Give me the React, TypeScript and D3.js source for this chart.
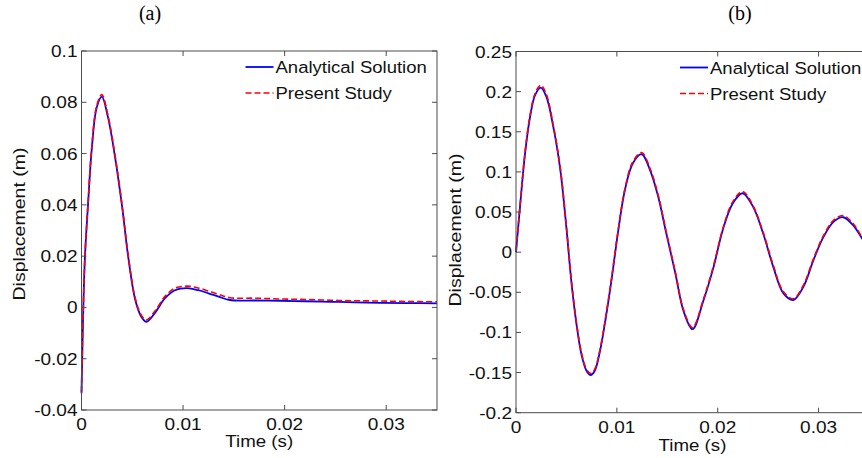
import React from "react";
import * as d3 from "d3";

// panel (a)
const timeA = [0, 0.00018, 0.00034, 0.00067, 0.001, 0.0015, 0.002, 0.0026, 0.0033, 0.004, 0.0046, 0.0053, 0.0059, 0.0064, 0.0072, 0.0082, 0.0092, 0.0104, 0.0115, 0.0125, 0.0135, 0.0146, 0.017, 0.0196, 0.022, 0.0245, 0.027, 0.0294, 0.032, 0.035];
const analyticalA = [-0.0335, 0.0, 0.0197, 0.0418, 0.0613, 0.078, 0.0822, 0.0743, 0.0587, 0.0392, 0.0197, 0.0028, -0.0037, -0.0056, -0.0023, 0.0035, 0.0067, 0.0075, 0.0067, 0.0055, 0.0042, 0.0029, 0.0027, 0.0026, 0.0024, 0.0022, 0.002, 0.0018, 0.0017, 0.0016];
const presentA = [-0.033, 0.0005, 0.0202, 0.0423, 0.062, 0.0787, 0.083, 0.075, 0.0593, 0.0398, 0.0203, 0.0034, -0.0031, -0.0049, -0.0016, 0.0042, 0.0075, 0.0083, 0.0076, 0.0064, 0.0051, 0.0038, 0.0036, 0.0033, 0.0031, 0.0028, 0.0026, 0.0025, 0.0023, 0.0022];
const yTicksA = [-0.04, -0.02, 0, 0.02, 0.04, 0.06, 0.08, 0.1];
const yLabelsA = ["-0.04", "-0.02", "0", "0.02", "0.04", "0.06", "0.08", "0.1"];

// panel (b)
const timeB = [0, 0.0004, 0.0009, 0.0014, 0.0019, 0.00245, 0.003, 0.0037, 0.0044, 0.005, 0.0055, 0.006, 0.0065, 0.007, 0.0074, 0.0078, 0.0083, 0.0089, 0.0095, 0.0101, 0.0108, 0.0116, 0.01246, 0.0133, 0.0141, 0.0149, 0.0158, 0.0166, 0.0175, 0.0186, 0.0196, 0.0205, 0.0215, 0.02247, 0.0235, 0.0245, 0.0255, 0.0265, 0.0275, 0.0285, 0.0295, 0.0305, 0.0315, 0.03244, 0.0334, 0.0343, 0.035];
const analyticalB = [0, 0.0567, 0.123, 0.169, 0.196, 0.205, 0.194, 0.156, 0.102, 0.03, -0.038, -0.09, -0.128, -0.148, -0.153, -0.148, -0.125, -0.082, -0.032, 0.0235, 0.0775, 0.111, 0.122, 0.102, 0.069, 0.0235, -0.0263, -0.073, -0.096, -0.0596, -0.018, 0.0277, 0.061, 0.0734, 0.0567, 0.0235, -0.018, -0.051, -0.0596, -0.043, -0.0097, 0.0193, 0.038, 0.0435, 0.0339, 0.0173, 0.004];
const presentB = [0.002, 0.058, 0.125, 0.171, 0.198, 0.208, 0.197, 0.158, 0.104, 0.032, -0.036, -0.088, -0.126, -0.146, -0.151, -0.146, -0.123, -0.08, -0.03, 0.025, 0.079, 0.113, 0.124, 0.104, 0.071, 0.025, -0.025, -0.071, -0.094, -0.058, -0.016, 0.029, 0.063, 0.0755, 0.058, 0.025, -0.016, -0.049, -0.058, -0.041, -0.008, 0.021, 0.04, 0.0455, 0.036, 0.019, 0.006];
const yTicksB = [-0.2, -0.15, -0.1, -0.05, 0, 0.05, 0.1, 0.15, 0.2, 0.25];
const yLabelsB = ["-0.2", "-0.15", "-0.1", "-0.05", "0", "0.05", "0.1", "0.15", "0.2", "0.25"];

const xTicks = [0, 0.01, 0.02, 0.03];
const xLabels = ["0", "0.01", "0.02", "0.03"];
const legendNames = ["Analytical Solution", "Present Study"];

const FONT = "'Liberation Sans', Arial, sans-serif";
const AXIS = "#4d4d4d";

// text that is a bit wider than the font draws it, like the scanned figure
function T({ x, y, anchor, sx, rot, children }: any) {
  return (
    <text
      transform={`translate(${x},${y}) rotate(${rot || 0}) scale(${sx},1)`}
      fontFamily={FONT}
      fontSize={17}
      textAnchor={anchor || "start"}
      fill="#111"
    >
      {children}
    </text>
  );
}

type PanelProps = {
  title: string;
  titleX: number;
  left: number;
  right: number;
  top: number;
  bottom: number;
  yDomain: [number, number];
  yTicks: number[];
  yLabels: string[];
  time: number[];
  analytical: number[];
  present: number[];
  yLabelX: number;
  yLabelY: number;
  xLabelY: number;
};

function Panel(p: PanelProps) {
  const x = d3.scaleLinear().domain([0, 0.035]).range([p.left, p.right]);
  const y = d3.scaleLinear().domain(p.yDomain).range([p.bottom, p.top]);
  const line = d3
    .line<number>()
    .x((d, i) => x(p.time[i]))
    .y(d => y(d))
    .curve(d3.curveCatmullRom);
  const tk = 5;
  const midX = (p.left + p.right) / 2;
  const legX = p.left + 164;

  return (
    <g>
      <text x={p.titleX} y={20} fontFamily="'Liberation Serif', 'Times New Roman', serif" fontSize={20} textAnchor="middle">
        {p.title}
      </text>
      <path d={line(p.analytical) || ""} fill="none" stroke="#0000ff" strokeWidth={1.8} />
      <path d={line(p.present) || ""} fill="none" stroke="#ff0000" strokeWidth={1.6} strokeDasharray="6,3" />
      <rect x={p.left} y={p.top} width={p.right - p.left} height={p.bottom - p.top} fill="none" stroke={AXIS} strokeWidth={1} />
      {xTicks.map((t, i) => (
        <g key={"x" + i}>
          <line x1={x(t)} x2={x(t)} y1={p.bottom} y2={p.bottom - tk} stroke={AXIS} />
          <line x1={x(t)} x2={x(t)} y1={p.top} y2={p.top + tk} stroke={AXIS} />
          <T x={x(t)} y={p.bottom + 20} anchor="middle" sx={1.12}>
            {xLabels[i]}
          </T>
        </g>
      ))}
      {p.yTicks.map((t, i) => (
        <g key={"y" + i}>
          <line x1={p.left} x2={p.left + tk} y1={y(t)} y2={y(t)} stroke={AXIS} />
          <line x1={p.right} x2={p.right - tk} y1={y(t)} y2={y(t)} stroke={AXIS} />
          <T x={p.left - 4} y={y(t) + 6} anchor="end" sx={1.12}>
            {p.yLabels[i]}
          </T>
        </g>
      ))}
      <T x={midX} y={p.xLabelY} anchor="middle" sx={1.1}>
        Time (s)
      </T>
      <T x={p.yLabelX} y={p.yLabelY} anchor="middle" sx={1.15} rot={-90}>
        Displacement (m)
      </T>
      {legendNames.map((name, i) => (
        <g key={name}>
          <line
            x1={legX}
            x2={legX + 28}
            y1={p.top + 16 + i * 26}
            y2={p.top + 16 + i * 26}
            stroke={i === 0 ? "#0000ff" : "#ff0000"}
            strokeWidth={i === 0 ? 1.8 : 1.6}
            strokeDasharray={i === 0 ? undefined : "6,3"}
          />
          <T x={legX + 30} y={p.top + 22 + i * 26} sx={1.09}>
            {name}
          </T>
        </g>
      ))}
    </g>
  );
}

export default function App() {
  return (
    <svg width={862} height={458} style={{ position: "absolute", left: 0, top: 0, background: "#fff" }}>
      <rect width={862} height={458} fill="#fff" />
      <Panel
        title="(a)"
        titleX={150}
        left={81.5}
        right={437}
        top={51}
        bottom={410}
        yDomain={[-0.04, 0.1]}
        yTicks={yTicksA}
        yLabels={yLabelsA}
        time={timeA}
        analytical={analyticalA}
        present={presentA}
        yLabelX={25}
        yLabelY={224}
        xLabelY={447}
      />
      <Panel
        title="(b)"
        titleX={740}
        left={516}
        right={869}
        top={51.5}
        bottom={412.7}
        yDomain={[-0.2, 0.25]}
        yTicks={yTicksB}
        yLabels={yLabelsB}
        time={timeB}
        analytical={analyticalB}
        present={presentB}
        yLabelX={461}
        yLabelY={230}
        xLabelY={451}
      />
    </svg>
  );
}
